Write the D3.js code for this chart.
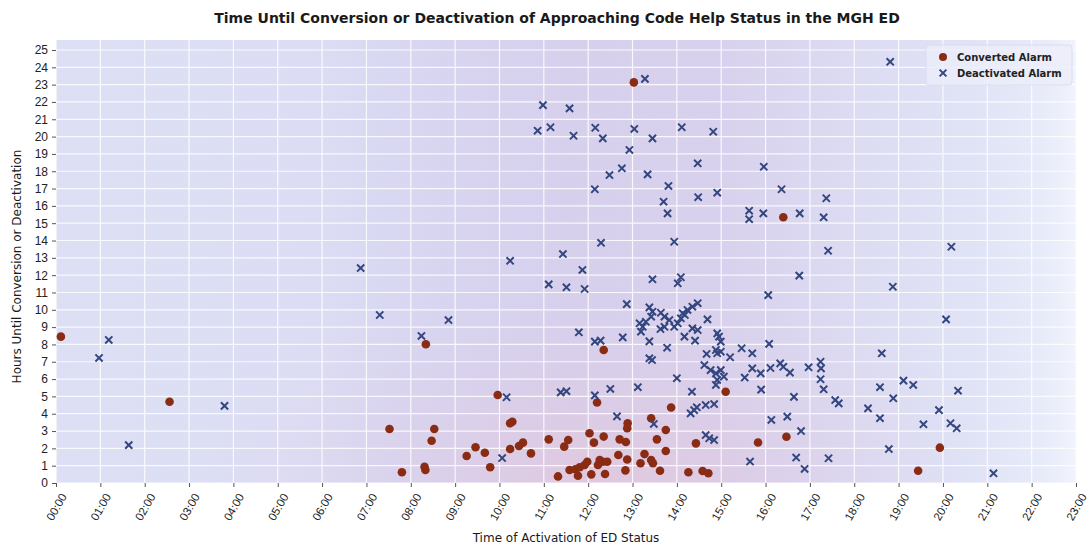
<!DOCTYPE html>
<html>
<head>
<meta charset="utf-8">
<script src="https://cdn.jsdelivr.net/npm/d3@7/dist/d3.min.js"></script>
<style>
  html, body { margin: 0; padding: 0; background: #ffffff; }
  svg { display: block; font-family: "DejaVu Sans", sans-serif; }
</style>
</head>
<body>
<svg id="chart" width="1092" height="550"></svg>
<script>
// Hour of day (0-23) and hours until the status ended, per alarm type
const convertedTime = [0.11, 2.56, 7.52, 7.80, 8.34, 8.53, 8.47, 8.31, 8.33, 9.26, 9.46, 9.67, 9.79, 9.96,
  10.24, 10.29, 10.24, 10.44, 10.53, 10.71, 11.11, 11.32, 11.46, 11.55, 11.58, 11.71, 11.81, 11.92, 11.98,
  11.77, 12.03, 12.07, 12.13, 12.20, 12.26, 12.22, 12.33, 12.43, 12.35, 12.35, 12.38, 12.68, 12.71, 12.85,
  12.84, 12.88, 12.89, 12.88, 13.03, 13.27, 13.18, 13.42, 13.46, 13.42, 13.55, 13.62, 13.75, 13.75, 13.87,
  14.26, 14.43, 14.58, 14.71, 15.10, 15.83, 16.40, 16.47, 19.44, 19.93];
const convertedHours = [8.45, 4.69, 3.12, 0.62, 8.01, 3.12, 2.44, 0.94, 0.75, 1.56, 2.06, 1.75, 0.91, 5.08,
  3.45, 3.54, 1.96, 2.14, 2.33, 1.71, 2.52, 0.38, 2.10, 2.48, 0.75, 0.79, 0.91, 1.04, 1.23,
  0.42, 2.87, 0.50, 2.33, 4.65, 1.33, 1.04, 1.23, 1.23, 7.68, 2.68, 0.52, 1.62, 2.52, 2.37,
  0.73, 1.36, 3.45, 3.16, 23.13, 1.67, 1.14, 1.33, 1.14, 3.74, 2.52, 0.71, 3.06, 1.85, 4.36,
  0.62, 2.29, 0.69, 0.56, 5.27, 2.34, 15.34, 2.67, 0.71, 2.04];

const deactivatedTime = [0.97, 1.19, 1.64, 3.80, 6.87, 7.30, 8.24, 8.85, 10.06, 10.16, 10.24, 10.86, 10.98,
  11.15, 11.11, 11.38, 11.51, 11.43, 11.51, 11.58, 11.67, 11.79, 11.87, 11.92, 12.15, 12.28, 12.15, 12.16,
  12.15, 12.29, 12.33, 12.48, 12.50, 12.65, 12.76, 12.78, 12.87, 12.93, 13.04, 13.12, 13.16, 13.23, 13.19,
  13.30, 13.28, 13.34, 13.38, 13.45, 13.42, 13.38, 13.38, 13.44, 13.45, 13.45, 13.48, 13.64, 13.72, 13.83,
  14.02, 13.94, 13.72, 13.63, 13.70, 13.78, 13.79, 13.81, 13.94, 14.00, 14.02, 14.09, 14.11, 14.13, 14.24,
  14.35, 14.47, 14.09, 14.18, 14.35, 14.47, 14.17, 14.41, 14.34, 14.31, 14.39, 14.45, 14.65, 14.84, 14.47,
  14.48, 14.62, 14.67, 14.69, 14.65, 14.73, 14.84, 14.76, 14.88, 14.99, 15.06, 14.91, 14.88, 14.82, 14.91,
  14.91, 14.95, 14.99, 14.88, 14.91, 14.99, 15.20, 15.46, 15.53, 15.63, 15.63, 15.65, 15.70, 15.70, 15.89,
  15.90, 15.95, 15.96, 16.06, 16.08, 16.11, 16.13, 16.33, 16.40, 16.36, 16.49, 16.55, 16.64, 16.69, 16.77,
  16.76, 16.80, 16.88, 16.97, 17.24, 17.25, 17.24, 17.31, 17.31, 17.37, 17.41, 17.42, 17.57, 17.65, 18.31,
  18.58, 18.58, 18.62, 18.78, 18.81, 18.87, 18.88, 19.11, 19.33, 19.56, 19.91, 20.07, 20.17, 20.19, 20.31,
  20.34, 21.14];
const deactivatedHours = [7.22, 8.26, 2.19, 4.45, 12.41, 9.70, 8.49, 9.41, 1.44, 4.95, 12.83, 20.34, 21.82,
  20.54, 11.47, 5.23, 5.30, 13.22, 11.30, 21.63, 20.05, 8.70, 12.30, 11.20, 8.16, 8.22, 16.96, 20.51,
  5.06, 13.87, 19.90, 17.78, 5.43, 3.85, 18.17, 8.41, 10.33, 19.23, 20.44, 5.53, 9.22, 9.02, 8.74,
  9.31, 23.33, 17.82, 10.14, 9.89, 9.60, 8.18, 7.20, 7.10, 19.90, 11.76, 3.41, 9.83, 9.60, 9.41,
  9.22, 9.02, 9.02, 8.89, 16.24, 7.81, 15.57, 17.15, 13.93, 6.05, 11.53, 11.88, 20.54, 9.80, 9.99,
  10.18, 10.38, 9.51, 9.70, 8.93, 8.83, 8.45, 8.22, 5.27, 4.02, 4.21, 4.37, 4.50, 4.56, 18.46,
  16.50, 6.81, 7.45, 9.45, 2.77, 2.58, 2.48, 6.52, 6.33, 6.52, 6.14, 5.95, 5.66, 20.28, 16.76,
  8.64, 8.45, 8.16, 7.68, 7.49, 7.58, 7.26, 7.78, 6.09, 15.72, 15.23, 1.24, 7.49, 6.62, 6.33,
  5.39, 15.57, 18.26, 10.85, 8.03, 6.64, 3.64, 6.91, 6.71, 16.96, 3.83, 6.37, 4.97, 1.47, 15.57,
  11.97, 3.00, 0.81, 6.68, 7.00, 6.62, 5.99, 5.41, 15.34, 16.44, 13.41, 1.43, 4.79, 4.60, 4.31,
  5.53, 3.74, 7.49, 1.96, 24.32, 11.33, 4.89, 5.91, 5.66, 3.39, 4.21, 9.45, 3.45, 13.64, 3.16,
  5.33, 0.56];

const hourTicks = d3.range(0, 24);
const hourLabels = ["00:00", "01:00", "02:00", "03:00", "04:00", "05:00", "06:00", "07:00", "08:00", "09:00",
  "10:00", "11:00", "12:00", "13:00", "14:00", "15:00", "16:00", "17:00", "18:00", "19:00", "20:00", "21:00",
  "22:00", "23:00"];
const durationTicks = d3.range(0, 26);
const seriesNames = ["Converted Alarm", "Deactivated Alarm"];

const converted = convertedTime.map((t, i) => ({ t, h: convertedHours[i] }));
const deactivated = deactivatedTime.map((t, i) => ({ t, h: deactivatedHours[i] }));

const svg = d3.select("#chart");
const x = d3.scaleLinear().domain([0, 23]).range([56, 1076]);
const y = d3.scaleLinear().domain([0, 25]).range([483, 50]);
const yTop = 25.58;

const dotColor = "#8a2c13";
const crossColor = "#33467f";

// Plot background: soft blue with a violet band over the busy daytime hours
const defs = svg.append("defs");
const lg = defs.append("linearGradient").attr("id", "bgH")
  .attr("gradientUnits", "userSpaceOnUse")
  .attr("x1", x(0)).attr("x2", x(23)).attr("y1", 0).attr("y2", 0);
[[0, "#dde0f5"], [0.25, "#dcddf4"], [0.35, "#d8d6f1"], [0.5, "#d6d0ed"], [0.65, "#d8d1ed"],
 [0.78, "#dcdbf2"], [0.9, "#e0e3f6"], [0.97, "#e8ebf9"], [1, "#f1f3fc"]]
  .forEach(([o, c]) => lg.append("stop").attr("offset", o).attr("stop-color", c));

const rg = defs.append("radialGradient").attr("id", "bgPink")
  .attr("gradientUnits", "userSpaceOnUse")
  .attr("cx", x(12.3)).attr("cy", y(0.5)).attr("r", 260)
  .attr("gradientTransform", `translate(${x(12.3)},${y(0.5)}) scale(1.5,0.75) translate(${-x(12.3)},${-y(0.5)})`);
rg.append("stop").attr("offset", 0).attr("stop-color", "#e4c6da").attr("stop-opacity", 0.75);
rg.append("stop").attr("offset", 0.5).attr("stop-color", "#dec9e2").attr("stop-opacity", 0.35);
rg.append("stop").attr("offset", 1).attr("stop-color", "#dad0ea").attr("stop-opacity", 0);

const plotW = x(23) - x(0), plotH = y(0) - y(yTop);
svg.append("rect").attr("x", x(0)).attr("y", y(yTop)).attr("width", plotW).attr("height", plotH)
  .attr("fill", "url(#bgH)");
svg.append("rect").attr("x", x(0)).attr("y", y(yTop)).attr("width", plotW).attr("height", plotH)
  .attr("fill", "url(#bgPink)");

// White grid at every hour on both axes
const grid = svg.append("g").attr("stroke", "#ffffff").attr("stroke-width", 1.2).attr("opacity", 0.85);
grid.selectAll("line.v").data(hourTicks).join("line").attr("class", "v")
  .attr("x1", d => x(d)).attr("x2", d => x(d)).attr("y1", y(yTop)).attr("y2", y(0));
grid.selectAll("line.h").data(durationTicks).join("line").attr("class", "h")
  .attr("x1", x(0)).attr("x2", x(23)).attr("y1", d => y(d)).attr("y2", d => y(d));

// Axes
const xAxis = d3.axisBottom(x).tickValues(hourTicks).tickFormat((d, i) => hourLabels[i])
  .tickSize(4).tickPadding(3);
const gx = svg.append("g").attr("transform", `translate(0,${y(0)})`).call(xAxis);
gx.select(".domain").remove();
gx.selectAll(".tick line").attr("stroke", "#555");
gx.selectAll(".tick text")
  .attr("font-size", 11.5).attr("fill", "#222")
  .attr("text-anchor", "middle").attr("dy", null).attr("y", null)
  .attr("dominant-baseline", "central")
  .attr("transform", "translate(0,24) rotate(-60)");

const yAxis = d3.axisLeft(y).tickValues(durationTicks).tickSize(4).tickPadding(4);
const gy = svg.append("g").attr("transform", `translate(${x(0)},0)`).call(yAxis);
gy.select(".domain").remove();
gy.selectAll(".tick line").attr("stroke", "#555");
gy.selectAll(".tick text").attr("font-size", 12).attr("fill", "#222");

// Markers
svg.append("g").selectAll("circle").data(converted).join("circle")
  .attr("cx", d => x(d.t)).attr("cy", d => y(d.h)).attr("r", 4.3)
  .attr("fill", dotColor);

const cross = (s) => `M${-s},${-s}L${s},${s}M${-s},${s}L${s},${-s}`;
svg.append("g").selectAll("path").data(deactivated).join("path")
  .attr("transform", d => `translate(${x(d.t)},${y(d.h)})`)
  .attr("d", cross(3.6))
  .attr("stroke", crossColor).attr("stroke-width", 2).attr("fill", "none");

// Legend
const lgd = svg.append("g");
lgd.append("rect").attr("x", 926).attr("y", 45).attr("width", 146).attr("height", 40).attr("rx", 3)
  .attr("fill", "#eceefa").attr("fill-opacity", 0.8).attr("stroke", "#d6d8ee").attr("stroke-width", 0.8);
lgd.append("circle").attr("cx", 943).attr("cy", 57).attr("r", 4).attr("fill", dotColor);
lgd.append("path").attr("transform", "translate(943,73)").attr("d", cross(3.4))
  .attr("stroke", crossColor).attr("stroke-width", 2);
lgd.selectAll("text").data(seriesNames).join("text")
  .attr("x", 957).attr("y", (d, i) => 57 + i * 16).attr("dominant-baseline", "central")
  .attr("font-size", 10).attr("font-weight", "bold").attr("fill", "#222").text(d => d);

// Titles
svg.append("text").attr("x", 557).attr("y", 18).attr("text-anchor", "middle")
  .attr("dominant-baseline", "central").attr("font-size", 14).attr("font-weight", "bold")
  .attr("fill", "#1a1a1a")
  .text("Time Until Conversion or Deactivation of Approaching Code Help Status in the MGH ED");
svg.append("text").attr("x", 566).attr("y", 538).attr("text-anchor", "middle")
  .attr("dominant-baseline", "central").attr("font-size", 12).attr("fill", "#1a1a1a")
  .text("Time of Activation of ED Status");
svg.append("text").attr("transform", `translate(17,${(y(0) + y(25)) / 2}) rotate(-90)`)
  .attr("text-anchor", "middle").attr("dominant-baseline", "central")
  .attr("font-size", 12).attr("fill", "#1a1a1a")
  .text("Hours Until Conversion or Deactivation");
</script>
</body>
</html>
